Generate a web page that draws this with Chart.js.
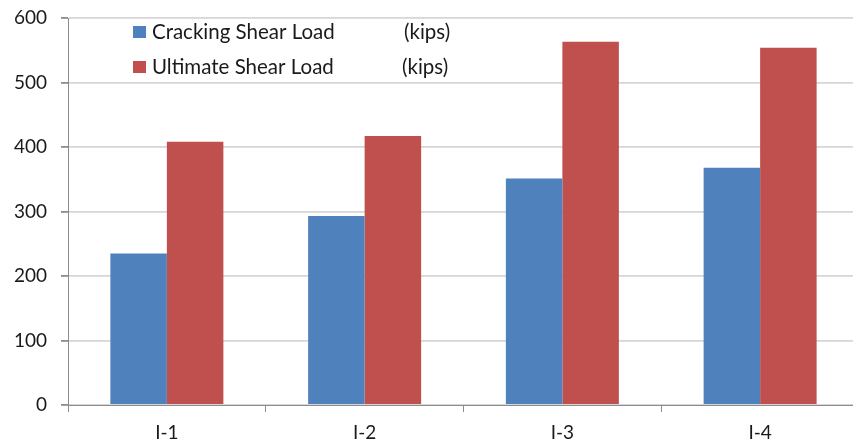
<!DOCTYPE html>
<html>
<head>
<meta charset="utf-8">
<script src="https://cdn.jsdelivr.net/npm/chart.js@4/dist/chart.umd.min.js"></script>
<style>
  html, body { margin: 0; padding: 0; background: #fff; overflow: hidden; }
  #wrap { width: 860px; height: 448px; }
</style>
</head>
<body>
<div id="wrap"><canvas id="c" width="860" height="448"></canvas></div>
<script>
// Specimens and measured shear loads (kips)
const specimens = ['I-1', 'I-2', 'I-3', 'I-4'];
const crackingShear = [235, 293, 351, 368];
const ultimateShear = [408, 417, 563, 554];
const seriesNames = ['Cracking Shear Load', 'Ultimate Shear Load'];
const unitLabel = '(kips)';
const yTicks = [0, 100, 200, 300, 400, 500, 600];

const BLUE = '#4F81BD';
const RED = '#C0504D';
const FONT = 'Lato, "Open Sans", sans-serif';
const TEXT = '#1a1a1a';

// Legend drawn inside the plot area, top-left
const insideLegend = {
  id: 'insideLegend',
  afterDraw(chart) {
    const ctx = chart.ctx;
    ctx.save();
    ctx.font = '20.5px ' + FONT;
    ctx.textBaseline = 'middle';
    chart.data.datasets.forEach((ds, i) => {
      const y = 32 + i * 35;
      ctx.fillStyle = ds.backgroundColor;
      ctx.fillRect(133, y - 6, 13, 12);
      ctx.fillStyle = TEXT;
      ctx.textAlign = 'left';
      ctx.fillText(ds.label, 152, y);
      ctx.fillText(unitLabel, 404 - i * 2, y);
    });
    ctx.restore();
  }
};

new Chart(document.getElementById('c'), {
  type: 'bar',
  data: {
    labels: specimens,
    datasets: [
      { label: seriesNames[0], data: crackingShear, backgroundColor: BLUE },
      { label: seriesNames[1], data: ultimateShear, backgroundColor: RED }
    ]
  },
  options: {
    responsive: false,
    animation: false,
    events: [],
    categoryPercentage: 2 / 3.5,
    barPercentage: 1,
    layout: { padding: { top: 0, right: 1, bottom: 0, left: 0 } },
    plugins: {
      legend: { display: false },
      tooltip: { enabled: false }
    },
    scales: {
      x: {
        grid: {
          offset: true,
          drawOnChartArea: false,
          drawTicks: true,
          tickLength: 7,
          color: '#8C8C8C',
          tickColor: '#8C8C8C'
        },
        border: { color: '#8C8C8C', width: 1 },
        ticks: {
          color: TEXT,
          font: { family: FONT, size: 19 },
          padding: 9
        },
        afterFit(scale) { scale.height = 43; }
      },
      y: {
        min: 0,
        max: 600,
        afterBuildTicks(scale) { scale.ticks = yTicks.map(v => ({ value: v })); },
        grid: {
          color: '#D6D6D6',
          lineWidth: 1.8,
          tickLength: 7,
          tickColor: '#8C8C8C'
        },
        border: { color: '#8C8C8C', width: 1 },
        ticks: {
          color: TEXT,
          font: { family: FONT, size: 19 },
          padding: 14
        },
        afterFit(scale) {
          scale.width = 68;
          scale.paddingTop = 18;
          scale.paddingBottom = 0;
        }
      }
    }
  },
  plugins: [insideLegend]
});
</script>
</body>
</html>
